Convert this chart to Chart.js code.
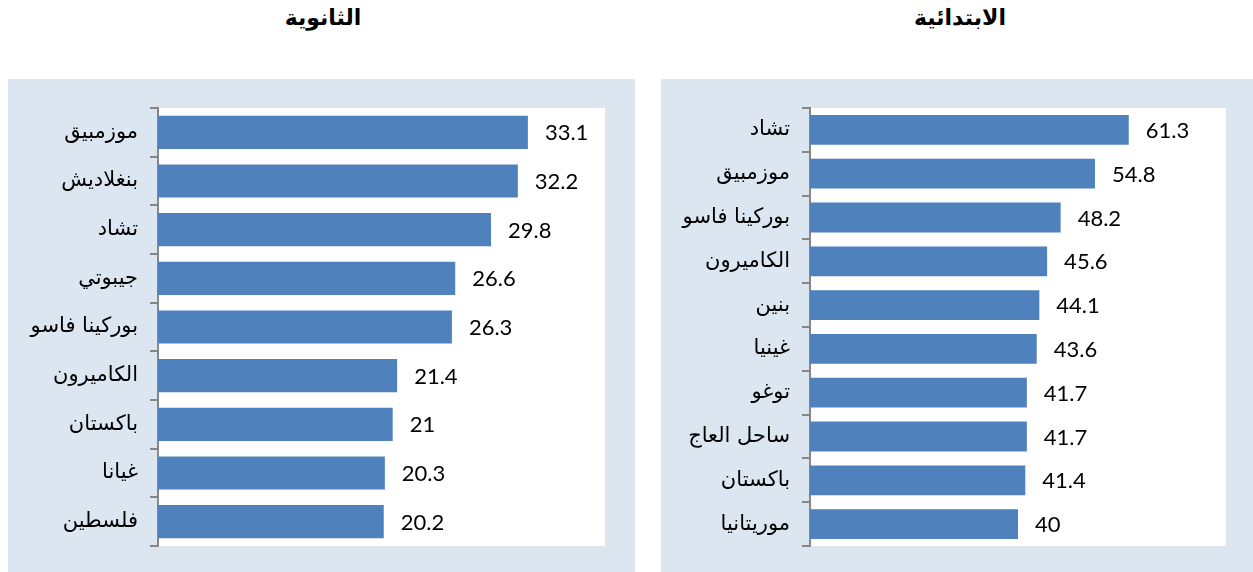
<!DOCTYPE html>
<html>
<head>
<meta charset="utf-8">
<script src="https://cdn.jsdelivr.net/npm/chart.js@4"></script>
<style>
  body { margin: 0; background: #fff; width: 1253px; height: 572px; position: relative; overflow: hidden; }
  .title { position: absolute; top: 5px; font: bold 22px "DejaVu Sans", sans-serif; text-align: center; width: 300px; }
  canvas { position: absolute; top: 79px; }
</style>
</head>
<body>
<div class="title" id="title_left" style="left:173px" dir="rtl"></div>
<div class="title" id="title_right" style="left:810px" dir="rtl"></div>
<canvas id="secondary_chart" width="627" height="493" style="left:8px"></canvas>
<canvas id="primary_chart" width="592" height="493" style="left:661px"></canvas>
<script>
const secondaryTitle = "الثانوية";
const secondaryCountries = ["موزمبيق", "بنغلاديش", "تشاد", "جيبوتي", "بوركينا فاسو", "الكاميرون", "باكستان", "غيانا", "فلسطين"];
const secondaryValues = [33.1, 32.2, 29.8, 26.6, 26.3, 21.4, 21, 20.3, 20.2];

const primaryTitle = "الابتدائية";
const primaryCountries = ["تشاد", "موزمبيق", "بوركينا فاسو", "الكاميرون", "بنين", "غينيا", "توغو", "ساحل العاج", "باكستان", "موريتانيا"];
const primaryValues = [61.3, 54.8, 48.2, 45.6, 44.1, 43.6, 41.7, 41.7, 41.4, 40];

document.getElementById("title_left").textContent = secondaryTitle;
document.getElementById("title_right").textContent = primaryTitle;

// light blue outer panel, white plot area
const panelBackground = {
  id: "panelBackground",
  beforeDraw(chart) {
    const ctx = chart.ctx;
    const area = chart.chartArea;
    ctx.save();
    ctx.fillStyle = "#dce6f1";
    ctx.fillRect(0, 0, chart.width, chart.height);
    ctx.fillStyle = "#ffffff";
    ctx.fillRect(area.left, area.top, area.right - area.left, area.bottom - area.top);
    ctx.restore();
  },
};

// value printed after the end of each bar
const valueLabels = {
  id: "valueLabels",
  afterDatasetsDraw(chart) {
    const ctx = chart.ctx;
    const meta = chart.getDatasetMeta(0);
    const values = chart.data.datasets[0].data;
    ctx.save();
    ctx.font = "22px Lato, sans-serif";
    ctx.fillStyle = "#000";
    ctx.textAlign = "left";
    ctx.textBaseline = "middle";
    meta.data.forEach(function (bar, i) {
      ctx.fillText(String(values[i]), bar.x + 17, bar.y + 1);
    });
    ctx.restore();
  },
};

function createBarChart(id, labels, values, maxValue, axisWidth, rightPad) {
  const ctx = document.getElementById(id);
  return new Chart(ctx, {
    type: "bar",
    data: {
      labels: labels,
      datasets: [
        {
          data: values,
          backgroundColor: "#4f81bd",
          borderWidth: 0,
          barPercentage: 0.68,
          categoryPercentage: 1,
        },
      ],
    },
    options: {
      indexAxis: "y",
      responsive: false,
      animation: false,
      layout: {
        padding: { left: 0, right: rightPad, top: 29, bottom: 26 },
      },
      plugins: {
        legend: { display: false },
        tooltip: { enabled: false },
      },
      scales: {
        x: {
          display: false,
          min: 0,
          max: maxValue,
        },
        y: {
          afterFit: function (scale) {
            scale.width = axisWidth;
          },
          border: { color: "#868686", width: 2 },
          grid: {
            drawOnChartArea: false,
            drawTicks: true,
            tickLength: 8,
            color: "#868686",
            lineWidth: 2,
          },
          ticks: {
            color: "#000",
            padding: 12,
            font: { family: "'DejaVu Sans', sans-serif", size: 21 },
          },
        },
      },
    },
    plugins: [panelBackground, valueLabels],
  });
}

createBarChart("secondary_chart", secondaryCountries, secondaryValues, 40, 150, 30);
createBarChart("primary_chart", primaryCountries, primaryValues, 80, 149, 27);
</script>
</body>
</html>
